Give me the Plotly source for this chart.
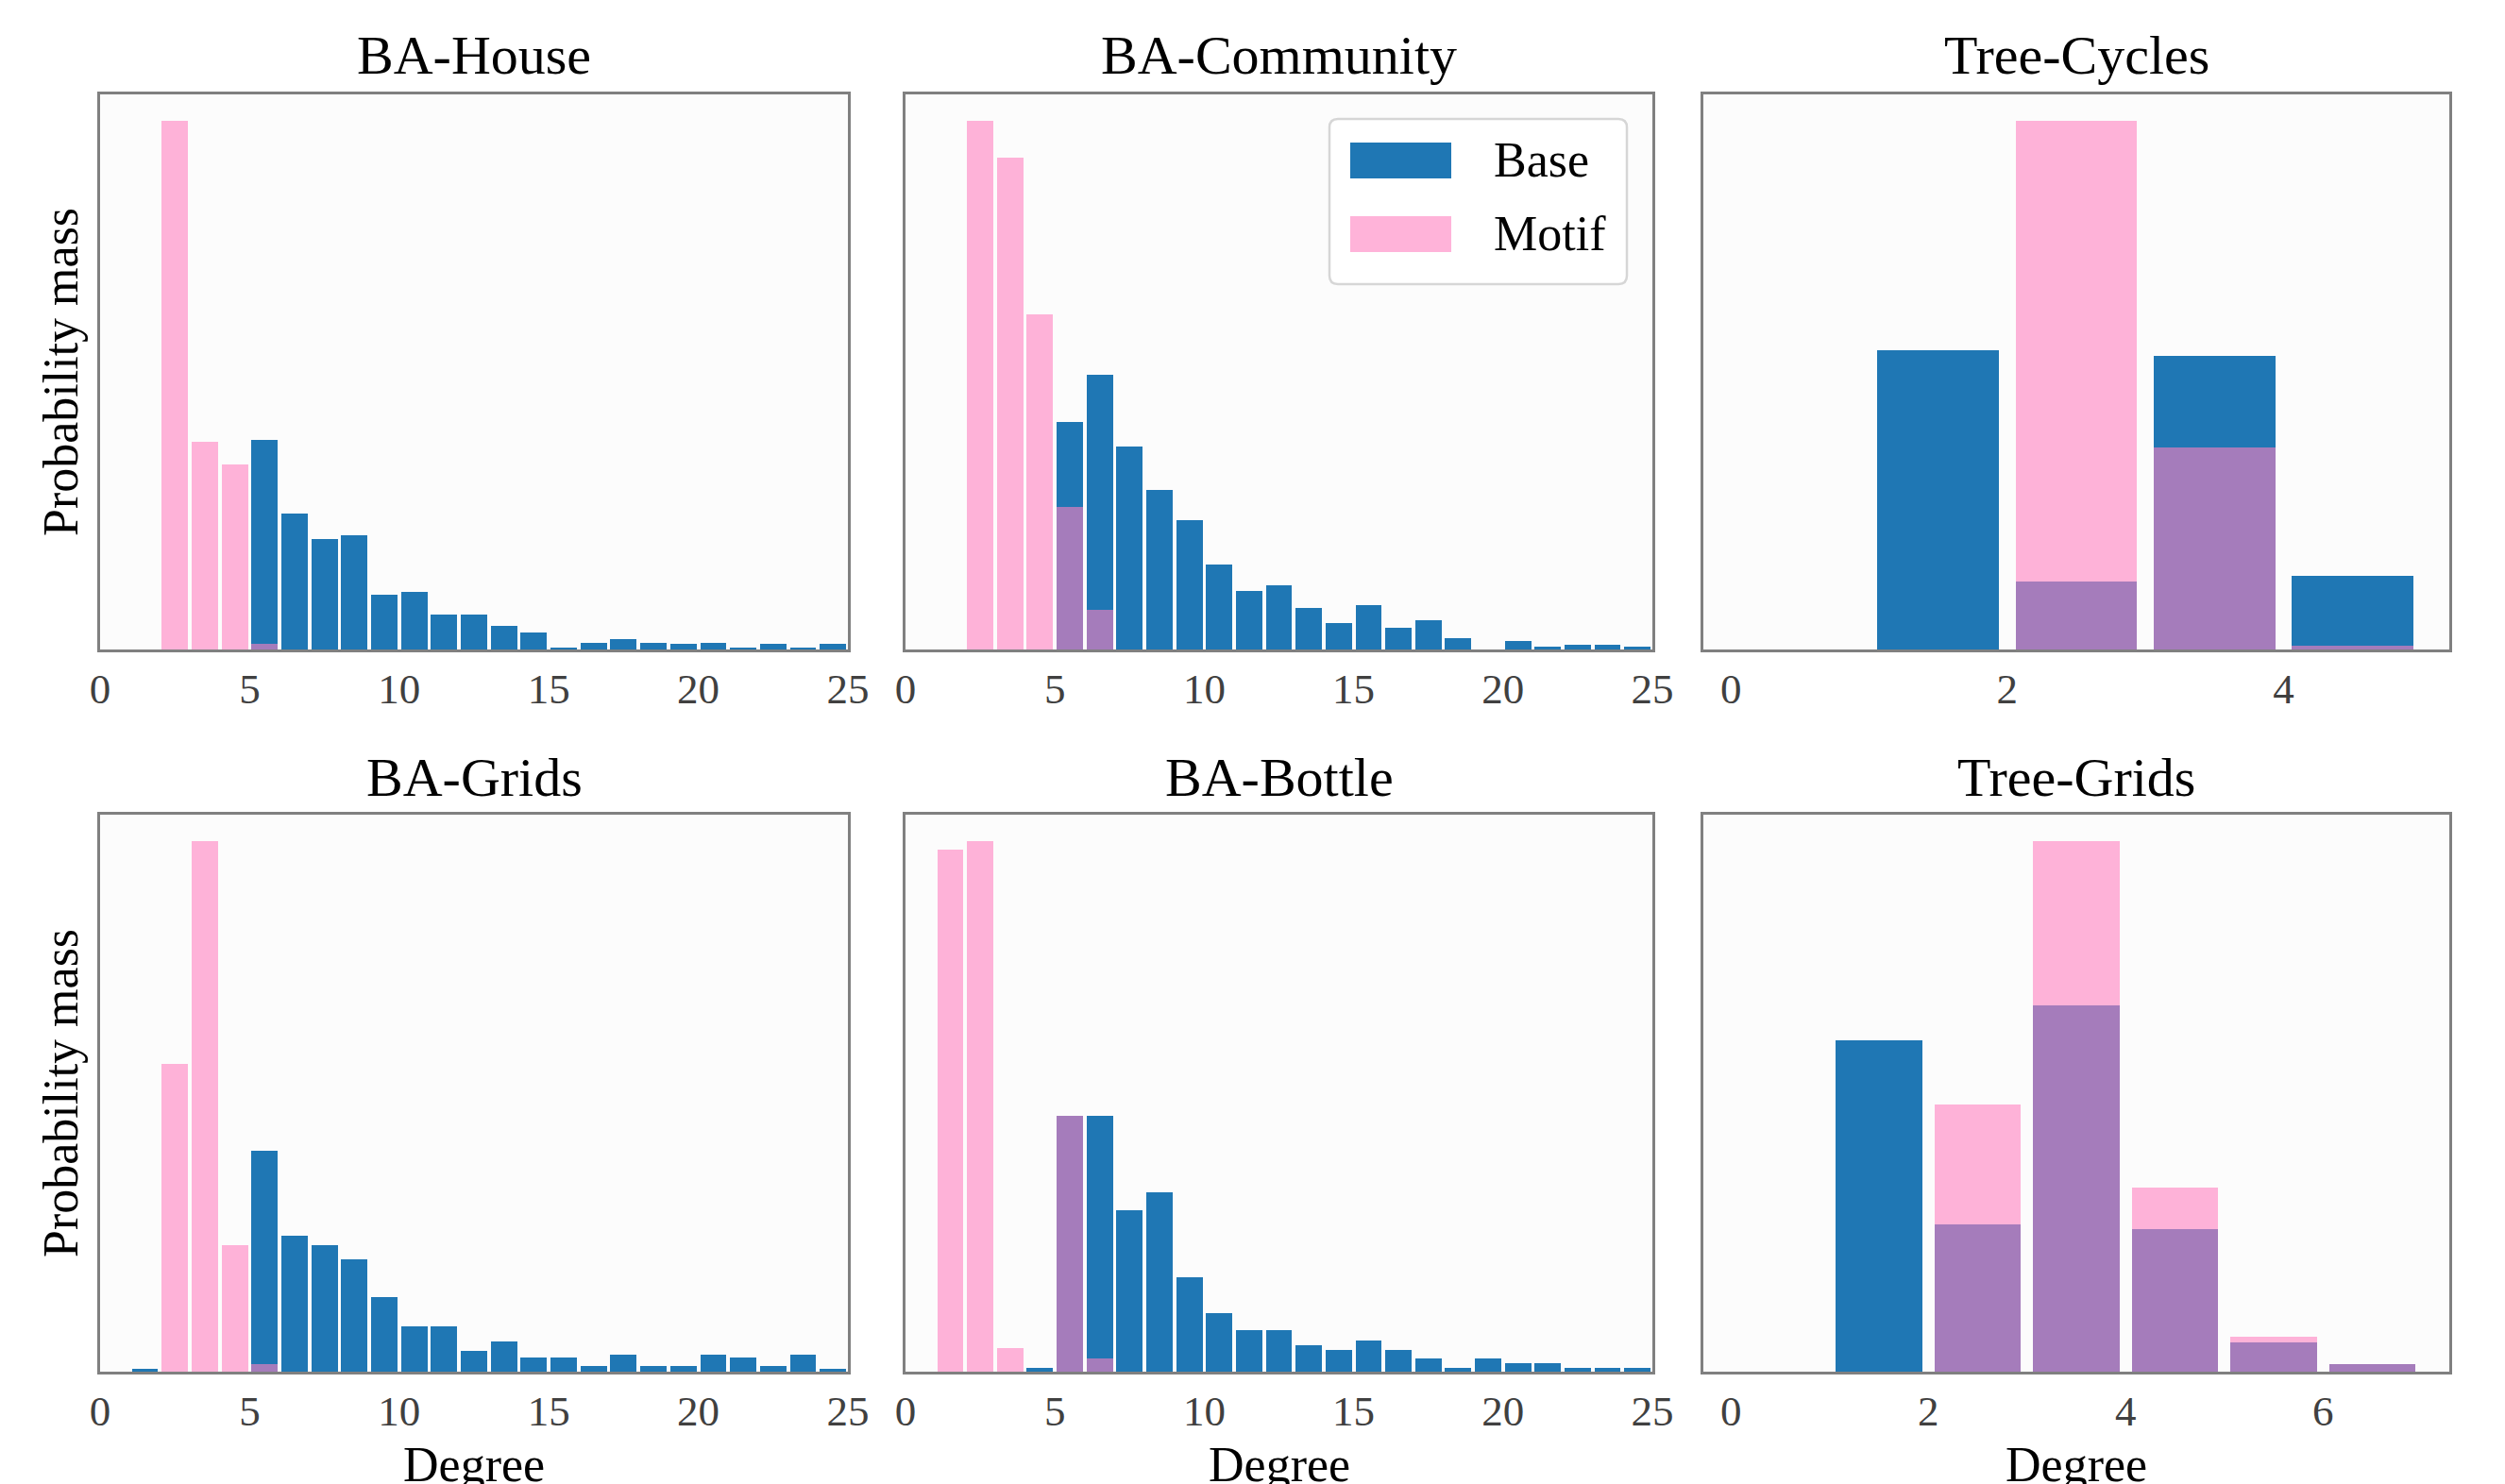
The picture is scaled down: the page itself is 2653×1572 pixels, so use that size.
import plotly.graph_objects as go

W, H = 2653, 1572

# ---------------- data (probability mass per degree bin) ----------------
ba_degrees = list(range(25))

ba_house_base = [0, 0, 0, 0, 0, 0.226, 0.147, 0.119, 0.123, 0.059, 0.062, 0.038, 0.038,
                 0.025, 0.018, 0.0025, 0.007, 0.011, 0.007, 0.006, 0.007, 0.0025, 0.006, 0.0025, 0.006]
ba_house_motif = [0, 0, 0.57, 0.224, 0.20, 0.006] + [0] * 19

ba_comm_base = [0, 0, 0, 0, 0, 0.148, 0.179, 0.132, 0.104, 0.084, 0.055, 0.038, 0.042,
                0.027, 0.017, 0.029, 0.014, 0.019, 0.0074, 0, 0.0053, 0.002, 0.0033, 0.0033, 0.002]
ba_comm_motif = [0, 0, 0.344, 0.320, 0.218, 0.093, 0.026] + [0] * 18

ba_grids_base = [0, 0.0025, 0, 0, 0, 0.227, 0.140, 0.130, 0.116, 0.077, 0.047, 0.047, 0.021,
                 0.031, 0.0144, 0.0144, 0.006, 0.0174, 0.006, 0.006, 0.0174, 0.0144, 0.006, 0.0174, 0.0025]
ba_grids_motif = [0, 0, 0.317, 0.546, 0.130, 0.0075] + [0] * 19

ba_bottle_base = [0, 0, 0, 0, 0.0025, 0.19, 0.19, 0.12, 0.133, 0.070, 0.0435, 0.0306, 0.0306,
                  0.0198, 0.0162, 0.023, 0.0162, 0.010, 0.0025, 0.010, 0.0065, 0.0065, 0.0025, 0.0025, 0.0025]
ba_bottle_motif = [0, 0.388, 0.394, 0.0176, 0, 0.19, 0.010] + [0] * 18

tc_degrees = [0, 1, 2, 3, 4]
tree_cycles_base = [0, 0.408, 0.093, 0.40, 0.10]
tree_cycles_motif = [0, 0, 0.72, 0.275, 0.005]

tg_degrees = [0, 1, 2, 3, 4, 5, 6]
tree_grids_base = [0, 0.324, 0.144, 0.358, 0.139, 0.029, 0.007]
tree_grids_motif = [0, 0, 0.261, 0.518, 0.180, 0.034, 0.007]

titles = ["BA-House", "BA-Community", "Tree-Cycles", "BA-Grids", "BA-Bottle", "Tree-Grids"]
legend_labels = ["Base", "Motif"]

panels = [
    (ba_degrees, ba_house_base, ba_house_motif, [0, 25], [0, 5, 10, 15, 20, 25]),
    (ba_degrees, ba_comm_base, ba_comm_motif, [0, 25], [0, 5, 10, 15, 20, 25]),
    (tc_degrees, tree_cycles_base, tree_cycles_motif, [-0.2, 5.2], [0, 2, 4]),
    (ba_degrees, ba_grids_base, ba_grids_motif, [0, 25], [0, 5, 10, 15, 20, 25]),
    (ba_degrees, ba_bottle_base, ba_bottle_motif, [0, 25], [0, 5, 10, 15, 20, 25]),
    (tg_degrees, tree_grids_base, tree_grids_motif, [-0.28, 7.28], [0, 2, 4, 6]),
]

BLUE = "#1f77b4"
PINK = "rgba(255,128,191,0.6)"
FONT = "Liberation Serif"

# ---------------- layout geometry (pixels) ----------------
col_px = [(106, 898), (959, 1750), (1804, 2594)]
row_px = [(100, 688), (863, 1453)]


def px_x(p):
    return p / W


def px_y(p):
    return 1 - p / H


fig = go.Figure()
layout_axes = {}
for i, (deg, base, motif, xr, tv) in enumerate(panels):
    r, c = divmod(i, 3)
    n = i + 1
    xa = "x" if n == 1 else f"x{n}"
    ya = "y" if n == 1 else f"y{n}"
    centers = [d + 0.5 for d in deg]
    fig.add_trace(go.Bar(x=centers, y=base, width=0.88, marker=dict(color=BLUE, line=dict(width=0)),
                         name=legend_labels[0], showlegend=False, xaxis=xa, yaxis=ya))
    fig.add_trace(go.Bar(x=centers, y=motif, width=0.88, marker=dict(color=PINK, line=dict(width=0)),
                         name=legend_labels[1], showlegend=False, xaxis=xa, yaxis=ya))
    ymax = 1.05 * max(max(base), max(motif))
    x0, x1 = col_px[c]
    y0, y1 = row_px[r]
    axkey_x = "xaxis" if n == 1 else f"xaxis{n}"
    axkey_y = "yaxis" if n == 1 else f"yaxis{n}"
    layout_axes[axkey_x] = dict(
        domain=[px_x(x0), px_x(x1)], anchor=ya, range=xr, tickvals=tv, automargin=False,
        ticktext=[str(t) for t in tv], showgrid=False, zeroline=False,
        showline=True, mirror=True, linecolor="#808080", linewidth=3,
        ticks="", ticklen=0,
        tickfont=dict(family=FONT, size=45, color="#404040"),
    )
    layout_axes[axkey_y] = dict(
        domain=[px_y(y1), px_y(y0)], anchor=xa, range=[0, ymax], automargin=False,
        showticklabels=False, showgrid=False, zeroline=False,
        showline=True, mirror=True, linecolor="#808080", linewidth=3, ticks="",
    )

annotations = []
title_y = [59, 823]
for i, t in enumerate(titles):
    r, c = divmod(i, 3)
    x0, x1 = col_px[c]
    annotations.append(dict(text=t, x=px_x((x0 + x1) / 2), y=px_y(title_y[r]), xref="paper", yref="paper",
                            showarrow=False, xanchor="center", yanchor="middle",
                            font=dict(family=FONT, size=58, color="black")))
for r in range(2):
    y0, y1 = row_px[r]
    annotations.append(dict(text="Probability mass", x=px_x(64), y=px_y((y0 + y1) / 2), xref="paper",
                            yref="paper", showarrow=False, textangle=-90, xanchor="center", yanchor="middle",
                            font=dict(family=FONT, size=52, color="black")))
for c in range(3):
    x0, x1 = col_px[c]
    annotations.append(dict(text="Degree", x=px_x((x0 + x1) / 2), y=px_y(1551), xref="paper", yref="paper",
                            showarrow=False, xanchor="center", yanchor="middle",
                            font=dict(family=FONT, size=52, color="black")))

# legend (drawn in BA-Community panel)
lx0, lx1, ly0, ly1 = 1408, 1723, 126, 301
rad = 9
rx, ry = rad / W, rad / H
X0, X1, Y0, Y1 = px_x(lx0), px_x(lx1), px_y(ly1), px_y(ly0)
path = (f"M {X0+rx},{Y0} L {X1-rx},{Y0} Q {X1},{Y0} {X1},{Y0+ry} L {X1},{Y1-ry} Q {X1},{Y1} {X1-rx},{Y1} "
        f"L {X0+rx},{Y1} Q {X0},{Y1} {X0},{Y1-ry} L {X0},{Y0+ry} Q {X0},{Y0} {X0+rx},{Y0} Z")
shapes = [dict(type="path", path=path, xref="paper", yref="paper", fillcolor="rgba(255,255,255,0.85)",
               line=dict(color="#d6d6d6", width=2.5))]
for (sy0, sy1), col, lab, ty in [((151, 189), BLUE, "Base", 170), ((229, 267), PINK, "Motif", 248)]:
    shapes.append(dict(type="rect", xref="paper", yref="paper", x0=px_x(1430), x1=px_x(1537),
                       y0=px_y(sy1), y1=px_y(sy0), fillcolor=col, line=dict(width=0)))
    annotations.append(dict(text=lab, x=px_x(1580), y=px_y(ty), xref="paper", yref="paper", showarrow=False,
                            xanchor="left", yanchor="middle", font=dict(family=FONT, size=52, color="black")))

fig.update_layout(
    width=W, height=H, autosize=False,
    margin=dict(l=0, r=0, t=0, b=0, autoexpand=False),
    paper_bgcolor="white", plot_bgcolor="#fcfcfc",
    barmode="overlay", bargap=0, hovermode=False,
    annotations=annotations, shapes=shapes,
    showlegend=False,
    **layout_axes,
)

fig.write_html("out.html", config={"displayModeBar": False},
               post_script="document.body.style.margin='0';document.body.style.overflow='hidden';")
